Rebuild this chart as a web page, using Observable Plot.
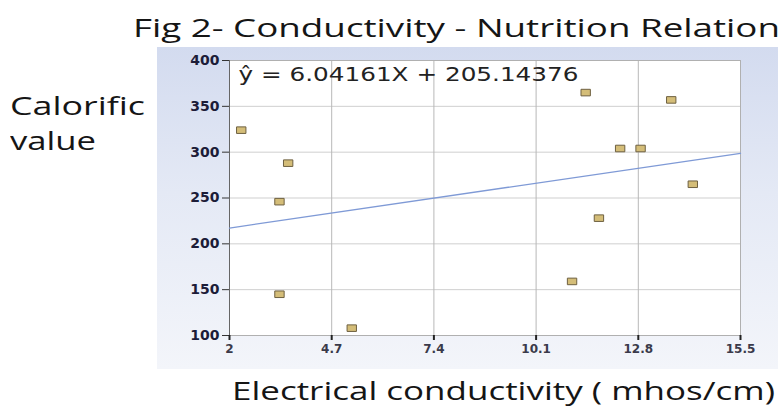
<!DOCTYPE html>
<html><head><meta charset="utf-8">
<script src="https://cdn.jsdelivr.net/npm/d3@7"></script>
<script src="https://cdn.jsdelivr.net/npm/@observablehq/plot@0.6"></script>
<style>
body{margin:0;background:#fff;}
#wrap{position:relative;width:782px;height:412px;overflow:hidden;font-family:"Open Sans",Lato,sans-serif;color:#151515;}
#wrap .t{position:absolute;white-space:nowrap;transform-origin:0 50%;}
#title{left:133px;top:9px;font-size:26px;}
#ylab1{left:10px;top:88px;font-size:25px;}
#ylab2{left:10px;top:123px;font-size:25px;}
#xlab{left:232px;top:372px;font-size:26px;}
#panel{position:absolute;left:157px;top:47px;width:621px;height:322px;background:linear-gradient(180deg,#d3dbef 0%,#e4e9f5 45%,#f3f5fa 100%);}
#chart{position:absolute;left:157px;top:47px;}
</style></head>
<body><div id="wrap">
<div id="title" class="t">Fig 2- Conductivity - Nutrition Relation</div>
<div id="ylab1" class="t">Calorific</div>
<div id="ylab2" class="t">value</div>
<div id="panel"></div>
<div id="chart"></div>
<div id="xlab" class="t">Electrical conductivity ( mhos/cm)</div>
</div>
<script>
const conductivity = [2.31, 3.55, 3.32, 3.32, 5.23, 11.05, 11.41, 11.76, 12.32, 12.86, 13.67, 14.24];
const calorific = [324, 288, 246, 145, 108, 159, 365, 228, 304, 304, 357, 265];
const xTicks = [2, 4.7, 7.4, 10.1, 12.8, 15.5];
const yTicks = [100, 150, 200, 250, 300, 350, 400];
const slope = 6.04161;
const intercept = 205.14376;
const equation = "ŷ = 6.04161X + 205.14376";

const points = conductivity.map((x, i) => ({x, y: calorific[i]}));
const fitEnds = [xTicks[0], xTicks[xTicks.length - 1]].map(x => ({x, y: slope * x + intercept}));

const rectSymbol = {
  draw(ctx, size) {
    const w = Math.sqrt(size) * 1.15, h = w * 0.7;
    ctx.moveTo(-w / 2, -h / 2);
    ctx.lineTo(w / 2, -h / 2);
    ctx.lineTo(w / 2, h / 2);
    ctx.lineTo(-w / 2, h / 2);
    ctx.closePath();
  }
};

const chart = Plot.plot({
  width: 621,
  height: 322,
  marginLeft: 72,
  marginRight: 38,
  marginTop: 13,
  marginBottom: 34,
  style: {background: "transparent", fontFamily: "DejaVu Sans, sans-serif"},
  x: {domain: [2, 15.5], label: null},
  y: {domain: [100, 400], label: null},
  marks: [
    Plot.frame({fill: "white", stroke: "none"}),
    Plot.gridY(yTicks, {stroke: "#cfcfcf", strokeOpacity: 1}),
    Plot.gridX(xTicks, {stroke: "#b8b8b8", strokeOpacity: 1}),
    Plot.frame({stroke: "#b0b0b0"}),
    Plot.ruleX([2], {stroke: "#666"}),
    Plot.axisY(yTicks, {label: null, tickSize: 7, tickPadding: 3, fontSize: 14, fontWeight: "bold", fill: "#1c1c38", stroke: "#333"}),
    Plot.axisX(xTicks, {label: null, tickSize: 5, tickPadding: 4, fontSize: 12, fontWeight: "bold", fill: "#3a3a4a", stroke: "#222", strokeWidth: 2, tickFormat: d => String(d)}),
    Plot.line(fitEnds, {x: "x", y: "y", stroke: "#7f9ad6", strokeWidth: 1.3}),
    Plot.dot(points, {x: "x", y: "y", symbol: rectSymbol, r: 4.6, fill: "#d4bd78", stroke: "#6e6040", strokeWidth: 1}),
    Plot.text([equation], {frameAnchor: "top-left", dx: 9, dy: 6, fontSize: 20, fill: "#222", textAnchor: "start", lineAnchor: "top"})
  ]
});
document.getElementById("chart").appendChild(chart);

// stretch texts horizontally to the reference widths
function fit(el, target) {
  const w = el.getBoundingClientRect().width;
  el.style.transform = `scaleX(${target / w})`;
}
fit(document.getElementById("title"), 647);
fit(document.getElementById("ylab1"), 135);
fit(document.getElementById("ylab2"), 86);
fit(document.getElementById("xlab"), 543);
const eq = [...chart.querySelectorAll("text")].find(t => t.textContent === equation);
if (eq) {
  const b = eq.getBBox();
  const tr = eq.transform.baseVal.consolidate();
  const tx = tr ? tr.matrix.e : 0;
  const xl = tx + b.x;
  const s = 340 / b.width;
  const g = eq.parentNode;
  const orig = g.getAttribute("transform") || "";
  g.setAttribute("transform", `${orig} translate(${xl},0) scale(${s},1) translate(${-xl},0)`);
}
</script>
</body></html>
